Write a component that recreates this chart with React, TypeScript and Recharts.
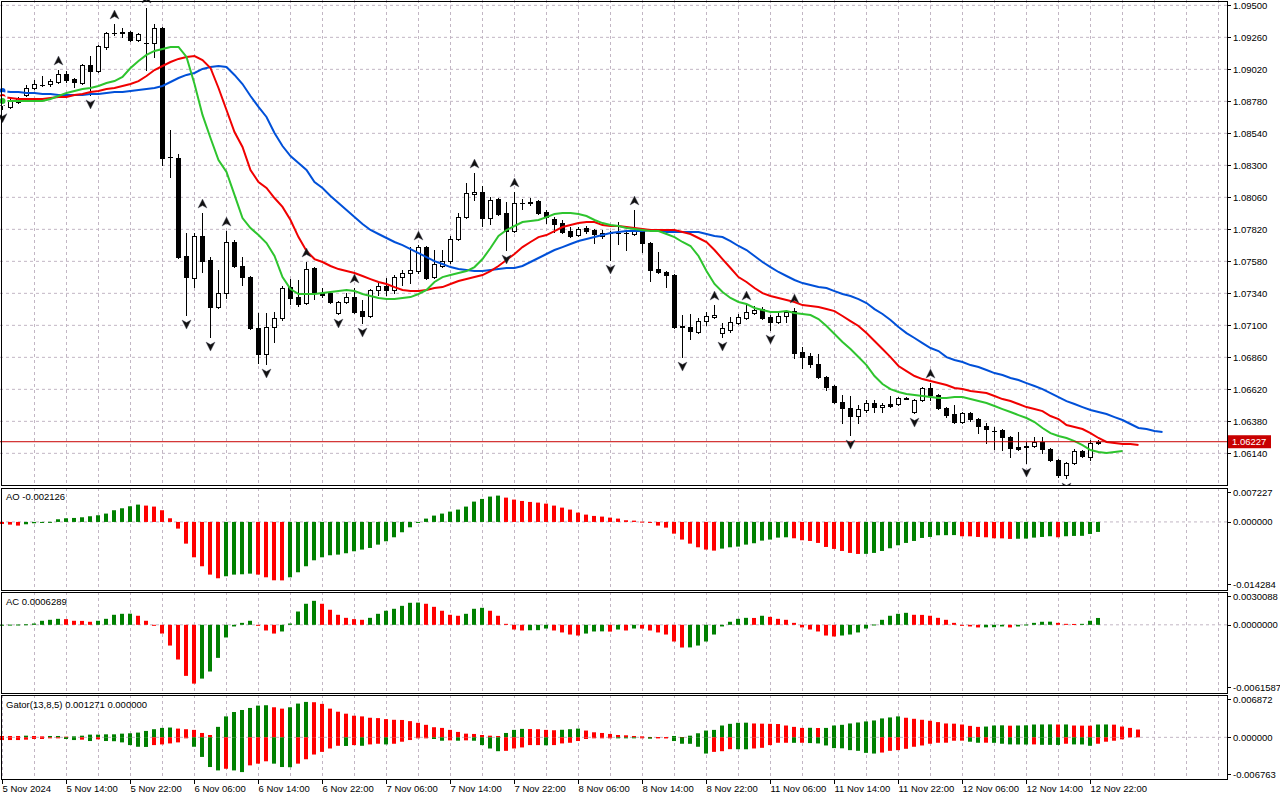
import React from "react"
import { ComposedChart, Bar, Line, Scatter, XAxis, YAxis, CartesianGrid, ReferenceLine } from "recharts"

// EURUSD H1, 5 Nov 06:00 .. 12 Nov 23:00
const open = [
  1.08756, 1.08738, 1.08775, 1.08828, 1.0888, 1.08902, 1.0891, 1.08925, 1.08985, 1.08947,
  1.08917, 1.09052, 1.09007, 1.09187, 1.09292, 1.09296, 1.093, 1.0924, 1.09217, 1.09217,
  1.0933, 1.08362, 1.08355, 1.0762, 1.07455, 1.0777, 1.0759, 1.07237, 1.07342, 1.07725,
  1.07545, 1.07462, 1.0708, 1.06885, 1.07087, 1.07155, 1.07387, 1.07312, 1.07267, 1.0753,
  1.07342, 1.07342, 1.07192, 1.07275, 1.07312, 1.07207, 1.0717, 1.07365, 1.07395, 1.07365,
  1.07462, 1.07492, 1.07507, 1.07687, 1.07462, 1.07545, 1.07582, 1.07747, 1.07912, 1.08085,
  1.081, 1.07905, 1.08047, 1.07942, 1.07807, 1.08017, 1.08025, 1.08032, 1.0795, 1.07897,
  1.07867, 1.07807, 1.07777, 1.0783, 1.07815, 1.0777, 1.07792, 1.07789, 1.07792, 1.07785,
  1.07807, 1.07717, 1.07522, 1.075, 1.07477, 1.07095, 1.07087, 1.0705, 1.07132, 1.07162,
  1.07042, 1.07065, 1.07117, 1.07155, 1.07192, 1.07222, 1.07162, 1.07125, 1.0717, 1.07207,
  1.069, 1.0687, 1.0681, 1.06712, 1.06642, 1.06525, 1.0648, 1.0642, 1.06465, 1.06517,
  1.06487, 1.0651, 1.0651, 1.06551, 1.0645, 1.0654, 1.0663, 1.06577, 1.0648, 1.06435,
  1.06375, 1.06442, 1.06397, 1.06345, 1.06311, 1.06315, 1.06262, 1.06187, 1.06195, 1.06195,
  1.06225, 1.06172, 1.0609, 1.05977, 1.06067, 1.06157, 1.06112, 1.06217,
]
const high = [
  1.08767, 1.08798, 1.08812, 1.08902, 1.0894, 1.0897, 1.08947, 1.09015, 1.09007, 1.08955,
  1.0906, 1.0912, 1.09202, 1.093, 1.0936, 1.0933, 1.09307, 1.09292, 1.0948, 1.0936,
  1.09337, 1.08565, 1.08385, 1.07792, 1.07792, 1.07942, 1.07612, 1.07515, 1.07807, 1.0774,
  1.07612, 1.0747, 1.07192, 1.07192, 1.072, 1.07395, 1.07447, 1.0744, 1.07575, 1.07537,
  1.0738, 1.0735, 1.07282, 1.07342, 1.0738, 1.0729, 1.07372, 1.07425, 1.07455, 1.07477,
  1.07515, 1.07687, 1.07702, 1.07695, 1.07665, 1.07665, 1.0777, 1.07942, 1.08167, 1.08242,
  1.08145, 1.08062, 1.08055, 1.08025, 1.081, 1.08047, 1.08055, 1.0804, 1.07965, 1.07912,
  1.0789, 1.07837, 1.07837, 1.07845, 1.07822, 1.07815, 1.07807, 1.07875, 1.07815, 1.07965,
  1.07815, 1.07725, 1.0765, 1.07507, 1.07485, 1.07177, 1.07185, 1.07155, 1.072, 1.07252,
  1.07117, 1.07162, 1.07185, 1.07252, 1.07245, 1.07237, 1.07177, 1.072, 1.07215, 1.0723,
  1.06937, 1.06892, 1.06885, 1.0672, 1.0665, 1.06577, 1.0657, 1.06502, 1.0654, 1.0654,
  1.06517, 1.0657, 1.06562, 1.06562, 1.06547, 1.06637, 1.06667, 1.06585, 1.06487, 1.06502,
  1.0645, 1.0645, 1.06405, 1.06367, 1.06337, 1.06322, 1.0627, 1.063, 1.06225, 1.06262,
  1.06262, 1.0618, 1.06097, 1.06075, 1.06172, 1.06165, 1.0624, 1.0624,
]
const low = [
  1.08725, 1.0873, 1.08767, 1.0882, 1.08872, 1.08895, 1.08895, 1.08917, 1.08925, 1.08887,
  1.0891, 1.08828, 1.09, 1.09172, 1.09277, 1.09262, 1.09232, 1.09232, 1.09015, 1.09112,
  1.08302, 1.08212, 1.07605, 1.07177, 1.07387, 1.075, 1.07012, 1.0723, 1.07305, 1.07537,
  1.07402, 1.07072, 1.06817, 1.0681, 1.06975, 1.0714, 1.0726, 1.07245, 1.0726, 1.07297,
  1.07312, 1.07267, 1.07185, 1.07267, 1.07192, 1.07117, 1.07162, 1.07327, 1.07327, 1.07342,
  1.07402, 1.07417, 1.07492, 1.07447, 1.07455, 1.07537, 1.07567, 1.0774, 1.07905, 1.0804,
  1.07845, 1.0786, 1.07927, 1.07665, 1.078, 1.07972, 1.08002, 1.07935, 1.07867, 1.078,
  1.07792, 1.07762, 1.0777, 1.07792, 1.07717, 1.07755, 1.0759, 1.0771, 1.07665, 1.07777,
  1.0765, 1.07432, 1.07492, 1.07387, 1.0708, 1.06862, 1.06997, 1.07042, 1.07102, 1.07155,
  1.07012, 1.0705, 1.0711, 1.07147, 1.07185, 1.07147, 1.07065, 1.07117, 1.07125, 1.06855,
  1.0678, 1.06787, 1.06705, 1.06612, 1.06517, 1.06367, 1.06277, 1.06367, 1.0645, 1.0645,
  1.0645, 1.06487, 1.06502, 1.06547, 1.06442, 1.06532, 1.0654, 1.06472, 1.06412, 1.06367,
  1.06367, 1.06382, 1.06292, 1.06217, 1.06172, 1.06165, 1.06112, 1.06165, 1.06067, 1.06187,
  1.06142, 1.06082, 1.05962, 1.05955, 1.0606, 1.06112, 1.0609, 1.0621,
]
const close = [
  1.08749, 1.0879, 1.08805, 1.0888, 1.0891, 1.08906, 1.08932, 1.08985, 1.0894, 1.08925,
  1.09052, 1.09007, 1.09195, 1.09292, 1.09289, 1.093, 1.0924, 1.09285, 1.09214, 1.0933,
  1.08355, 1.08359, 1.07612, 1.07462, 1.0777, 1.07582, 1.07237, 1.07342, 1.07725, 1.07545,
  1.07462, 1.0708, 1.06885, 1.07087, 1.07155, 1.0738, 1.07305, 1.0726, 1.07522, 1.0735,
  1.07327, 1.07275, 1.07275, 1.07312, 1.072, 1.0717, 1.07365, 1.07395, 1.07365, 1.07462,
  1.07492, 1.07515, 1.07687, 1.07455, 1.0756, 1.07582, 1.07747, 1.07912, 1.08092, 1.081,
  1.07905, 1.0804, 1.07935, 1.07807, 1.08017, 1.08014, 1.08021, 1.07942, 1.07912, 1.0786,
  1.078, 1.0777, 1.07822, 1.07807, 1.07785, 1.07792, 1.07789, 1.07792, 1.07789, 1.07815,
  1.07717, 1.07515, 1.075, 1.07477, 1.07087, 1.07087, 1.07057, 1.07132, 1.0717, 1.07174,
  1.0708, 1.07125, 1.07162, 1.072, 1.07215, 1.07155, 1.07125, 1.0717, 1.072, 1.06892,
  1.06862, 1.0681, 1.06712, 1.06635, 1.06525, 1.0648, 1.0642, 1.06472, 1.06517, 1.06487,
  1.06502, 1.06495, 1.06555, 1.06555, 1.0654, 1.0663, 1.06577, 1.0648, 1.06427, 1.06375,
  1.06442, 1.06397, 1.06345, 1.06322, 1.06307, 1.06262, 1.0618, 1.06172, 1.06187, 1.06225,
  1.06172, 1.0609, 1.05977, 1.06067, 1.06157, 1.0612, 1.06217, 1.06227,
]

// Alligator (13,8 / 8,5 / 5,3), values as drawn (shifted forward)
const jaw = [
  1.08858, 1.0885, 1.0885, 1.08843, 1.08843, 1.08835, 1.08835, 1.08828, 1.08828, 1.08828,
  1.08828, 1.08835, 1.08835, 1.08843, 1.0885, 1.0885, 1.08858, 1.08865, 1.08873, 1.0888,
  1.08895, 1.08925, 1.08955, 1.08978, 1.08993, 1.09023, 1.09038, 1.09045, 1.09038, 1.08978,
  1.0891, 1.0882, 1.08738, 1.08663, 1.08543, 1.08445, 1.0837, 1.08318, 1.08265, 1.08175,
  1.0813, 1.0807, 1.08017, 1.07965, 1.07912, 1.0786, 1.07815, 1.07785, 1.07755, 1.07725,
  1.07702, 1.07672, 1.07642, 1.07612, 1.07582, 1.0756, 1.07537, 1.07522, 1.07515, 1.07507,
  1.07507, 1.07515, 1.07522, 1.0753, 1.0753, 1.07545, 1.07575, 1.07605, 1.07635, 1.07665,
  1.07687, 1.0771, 1.07732, 1.07747, 1.07762, 1.07777, 1.07792, 1.078, 1.07807, 1.07807,
  1.07807, 1.07815, 1.07815, 1.078, 1.078, 1.078, 1.078, 1.078, 1.07785, 1.0777,
  1.07762, 1.07732, 1.07695, 1.07665, 1.0762, 1.07575, 1.07537, 1.075, 1.0747, 1.0744,
  1.07417, 1.07402, 1.07387, 1.0738, 1.07357, 1.07335, 1.0732, 1.07297, 1.07267, 1.07222,
  1.07185, 1.0714, 1.07087, 1.07042, 1.07005, 1.06967, 1.0693, 1.06907, 1.06862, 1.0684,
  1.06825, 1.06802, 1.06787, 1.06765, 1.06742, 1.06727, 1.06705, 1.0669, 1.06667, 1.06645,
  1.06622, 1.06592, 1.06562, 1.06532, 1.0651, 1.06487, 1.06465, 1.0645, 1.06435, 1.06412,
  1.0639, 1.0636, 1.0633, 1.06322, 1.06307, 1.063,
]
const teeth = [
  1.08813, 1.08805, 1.08798, 1.08798, 1.08798, 1.08798, 1.08805, 1.08813, 1.08813, 1.08828,
  1.08835, 1.0885, 1.08858, 1.08873, 1.0888, 1.08895, 1.0891, 1.08932, 1.0897, 1.09015,
  1.09045, 1.09075, 1.09098, 1.09113, 1.0912, 1.0909, 1.0903, 1.0888, 1.08715, 1.0855,
  1.08438, 1.08265, 1.08175, 1.0813, 1.08055, 1.07988, 1.0789, 1.07762, 1.07658, 1.07597,
  1.07575, 1.07545, 1.07522, 1.07507, 1.07492, 1.0747, 1.07447, 1.07425, 1.0741, 1.07387,
  1.07365, 1.07357, 1.07357, 1.07365, 1.0738, 1.07387, 1.0741, 1.07432, 1.07447, 1.07462,
  1.07477, 1.07507, 1.07545, 1.0759, 1.07635, 1.07687, 1.07725, 1.07762, 1.07777, 1.07807,
  1.07837, 1.07852, 1.07867, 1.07875, 1.07875, 1.07852, 1.07845, 1.07845, 1.07837, 1.0783,
  1.07822, 1.07815, 1.07815, 1.07815, 1.07815, 1.078, 1.07785, 1.07755, 1.07725, 1.07665,
  1.07597, 1.0753, 1.07462, 1.07425, 1.0738, 1.07342, 1.0732, 1.07305, 1.0729, 1.07275,
  1.07252, 1.07245, 1.07237, 1.07222, 1.07207, 1.0717, 1.07132, 1.07095, 1.07042, 1.06982,
  1.06922, 1.06862, 1.06795, 1.06757, 1.0672, 1.06697, 1.06682, 1.06667, 1.06652, 1.0663,
  1.06622, 1.06607, 1.066, 1.06592, 1.0657, 1.06547, 1.06532, 1.0651, 1.06487, 1.06472,
  1.06457, 1.0642, 1.06397, 1.06352, 1.06337, 1.06322, 1.06292, 1.06255, 1.06225, 1.06217,
  1.0621, 1.0621, 1.06202,
]
const lips = [
  1.08783, 1.08783, 1.08783, 1.08783, 1.08783, 1.08783, 1.08798, 1.0882, 1.08843, 1.08858,
  1.08873, 1.0888, 1.08895, 1.08917, 1.08932, 1.08963, 1.0903, 1.09083, 1.09128, 1.09158,
  1.09173, 1.09188, 1.09188, 1.09113, 1.0891, 1.08678, 1.08505, 1.0834, 1.0825, 1.08078,
  1.07905, 1.0783, 1.07777, 1.07717, 1.0762, 1.07462, 1.07372, 1.07335, 1.07335, 1.07335,
  1.07342, 1.0735, 1.07357, 1.07365, 1.07357, 1.07335, 1.0732, 1.07305, 1.07297, 1.07297,
  1.07305, 1.07312, 1.07335, 1.07365, 1.07425, 1.07462, 1.07477, 1.07492, 1.07507, 1.07537,
  1.07597, 1.0768, 1.0777, 1.07815, 1.07845, 1.07875, 1.07882, 1.0789, 1.07912, 1.07935,
  1.07942, 1.07942, 1.07935, 1.0792, 1.0789, 1.07867, 1.07852, 1.07845, 1.0783, 1.07822,
  1.07815, 1.07807, 1.07807, 1.07785, 1.07762, 1.07725, 1.07695, 1.0762, 1.07507, 1.0741,
  1.0735, 1.07305, 1.07275, 1.0726, 1.0723, 1.07215, 1.072, 1.072, 1.07207, 1.07192,
  1.07185, 1.07177, 1.07147, 1.07095, 1.07035, 1.06975, 1.06922, 1.06862, 1.06802, 1.0672,
  1.0666, 1.06622, 1.066, 1.06585, 1.06577, 1.0657, 1.06562, 1.06555, 1.06555, 1.06562,
  1.06562, 1.06547, 1.06532, 1.06517, 1.06495, 1.06472, 1.0645, 1.06427, 1.06405, 1.06375,
  1.0633, 1.06292, 1.0627, 1.06255, 1.06232, 1.06202, 1.06165, 1.0615, 1.06142, 1.0615,
  1.06157,
]

const fractalUpBars = [7, 14, 18, 25, 28, 38, 44, 52, 59, 64, 79, 89, 93, 99, 116]
const fractalDownBars = [0, 11, 23, 26, 33, 42, 45, 63, 76, 85, 90, 96, 106, 114, 128, 133]

const ao = [
  -0.00043, -0.00057, -0.00078, -0.0005, -0.00028, -0.00007, 0.00002, 0.00057, 0.00078, 0.00085,
  0.00099, 0.00121, 0.00142, 0.00178, 0.00249, 0.00291, 0.00334, 0.00369, 0.00348, 0.00327,
  0.00249, 0.00078, -0.00142, -0.00462, -0.00753, -0.00944, -0.01122, -0.012, -0.01157, -0.01122,
  -0.01115, -0.01101, -0.01122, -0.01179, -0.01243, -0.01245, -0.01179, -0.01072, -0.00944, -0.00817,
  -0.00753, -0.0071, -0.00696, -0.00667, -0.00625, -0.00589, -0.00554, -0.00483, -0.00412, -0.00327,
  -0.0022, -0.00114, -0.0001, 0.00071, 0.00135, 0.00178, 0.0022, 0.00263, 0.00327, 0.00433,
  0.0049, 0.0054, 0.00561, 0.00518, 0.00476, 0.00447, 0.00426, 0.00412, 0.0039, 0.00348,
  0.00305, 0.00263, 0.00199, 0.00156, 0.00128, 0.00114, 0.00092, 0.00071, 0.00036, 0.00028,
  0.00007, -0.0001, -0.00078, -0.00121, -0.00249, -0.00376, -0.00462, -0.0054, -0.00589, -0.00611,
  -0.00568, -0.0054, -0.00525, -0.00483, -0.00454, -0.00398, -0.00376, -0.00334, -0.00327, -0.00348,
  -0.0039, -0.00405, -0.00447, -0.00533, -0.00575, -0.00618, -0.0066, -0.00682, -0.0068, -0.0066,
  -0.00618, -0.00561, -0.00497, -0.00447, -0.00405, -0.00341, -0.0032, -0.00284, -0.00282, -0.0028,
  -0.00305, -0.00306, -0.0032, -0.00327, -0.00348, -0.0035, -0.00362, -0.00358, -0.00355, -0.00334,
  -0.0032, -0.00305, -0.00327, -0.00305, -0.00298, -0.00296, -0.00256, -0.002126,
]
const ac = [
  0.00001, 0.00002, 0.00003, 0.00005, 0.00012, 0.00037, 0.00046, 0.00055, 0.00052, 0.00037,
  0.00036, 0.00028, 0.00037, 0.00055, 0.00092, 0.00101, 0.00102, 0.00083, 0.00037, -0.00002,
  -0.0008, -0.0019, -0.00318, -0.00468, -0.00539, -0.00493, -0.00428, -0.00303, -0.00116, -0.00015,
  0.00018, 0.00037, -0.00006, -0.00052, -0.0008, -0.00061, 0.00012, 0.00122, 0.00193, 0.0022,
  0.00193, 0.00138, 0.00092, 0.00064, 0.00052, 0.00046, 0.00064, 0.00101, 0.00129, 0.00147,
  0.00174, 0.00202, 0.00204, 0.00193, 0.00165, 0.00129, 0.00092, 0.00083, 0.00101, 0.00147,
  0.00156, 0.00129, 0.00083, 0.00009, -0.00043, -0.00052, -0.0005, -0.00049, -0.00034, -0.00052,
  -0.0007, -0.00089, -0.00098, -0.0008, -0.00061, -0.0006, -0.00062, -0.00043, -0.00052, -0.00034,
  -0.00035, -0.00052, -0.0007, -0.00089, -0.00153, -0.00208, -0.00207, -0.0019, -0.00153, -0.00089,
  -0.00015, 0.00028, 0.00055, 0.00064, 0.00063, 0.00083, 0.00073, 0.00055, 0.00046, 0.00018,
  -0.00024, -0.00043, -0.00061, -0.00098, -0.00107, -0.00098, -0.00089, -0.0007, -0.00034, 0.00003,
  0.00046, 0.00083, 0.00101, 0.0011, 0.00092, 0.00091, 0.00083, 0.00064, 0.00046, 0.00018,
  -0.00006, -0.00015, -0.00024, -0.00023, -0.00022, -0.00015, -0.00024, -0.00015, 0.00003, 0.00018,
  0.00028, 0.00029, 0.00018, 0.00009, 0.00008, 0.00009, 0.00037, 0.0006289,
]
const gatorUp = [
  0.00022, 0.00022, 0.00022, 0.00027, 0.00022, 0.00016, 0.00022, 0.00022, 0.00011, 0.00016,
  0.00027, 0.00044, 0.00044, 0.00049, 0.00049, 0.0006, 0.00066, 0.00077, 0.00104, 0.00132,
  0.00153, 0.00159, 0.00142, 0.00132, 0.00121, 0.00071, 0.00038, 0.0017, 0.0034, 0.00411,
  0.00444, 0.00477, 0.00515, 0.00521, 0.00488, 0.00466, 0.00488, 0.00548, 0.00575, 0.0057,
  0.00543, 0.00466, 0.00416, 0.00384, 0.00351, 0.0034, 0.00318, 0.00312, 0.00296, 0.00285,
  0.00282, 0.00263, 0.00236, 0.00203, 0.00164, 0.00153, 0.00121, 0.00088, 0.0006, 0.00055,
  0.00038, 0.00027, 0.00022, 0.00071, 0.00121, 0.00137, 0.00134, 0.00132, 0.00121, 0.00115,
  0.00123, 0.00132, 0.00142, 0.0011, 0.00082, 0.00071, 0.00055, 0.00038, 0.00033, 0.00022,
  0.00016, 0.00005, 0.00004, 0.00003, 0.00022, 0.00005, 0.00027, 0.00066, 0.0011, 0.00121,
  0.00192, 0.00219, 0.00236, 0.00238, 0.00225, 0.00222, 0.00219, 0.00216, 0.00192, 0.0017,
  0.00153, 0.00155, 0.00151, 0.00153, 0.00192, 0.00203, 0.00225, 0.00241, 0.00258, 0.00274,
  0.00307, 0.00323, 0.0034, 0.00318, 0.00301, 0.00285, 0.00269, 0.00247, 0.00225, 0.00222,
  0.00208, 0.00186, 0.0017, 0.00175, 0.00192, 0.00195, 0.00189, 0.00192, 0.00195, 0.00208,
  0.00209, 0.0021, 0.00208, 0.00209, 0.00192, 0.0019, 0.00189, 0.00208, 0.00209, 0.00206,
  0.00175, 0.00153, 0.001271,
]
const gatorDown = [
  -0.00044, -0.00044, -0.00044, -0.00038, -0.00027, -0.00027, -0.00016, -0.00011, -0.00027, -0.00044,
  -0.00038, -0.0006, -0.00033, -0.0006, -0.00063, -0.00082, -0.00126, -0.00153, -0.00156, -0.00126,
  -0.00115, -0.00099, -0.00082, -0.00016, -0.00153, -0.00318, -0.00482, -0.00537, -0.0051, -0.00537,
  -0.00564, -0.00455, -0.00427, -0.00389, -0.00427, -0.00482, -0.00485, -0.00427, -0.00356, -0.00279,
  -0.00236, -0.00181, -0.00137, -0.0014, -0.00126, -0.00137, -0.00115, -0.00104, -0.00115, -0.00104,
  -0.00071, -0.00044, -0.00002, -0.00001, -0.00027, -0.00055, -0.00049, -0.00055, -0.00049, -0.00055,
  -0.00126, -0.00181, -0.00225, -0.00219, -0.00181, -0.00164, -0.00126, -0.00126, -0.00129, -0.00126,
  -0.00099, -0.00088, -0.0006, -0.00027, -0.00016, -0.00003, -0.00001, -0.00005, -0.00007, -0.00016,
  -0.00002, -0.00022, -0.00001, -0.00001, -0.0006, -0.00104, -0.00105, -0.00153, -0.00263, -0.00236,
  -0.00225, -0.00192, -0.00193, -0.00194, -0.00181, -0.0017, -0.00126, -0.00088, -0.00088, -0.00089,
  -0.00088, -0.00093, -0.00099, -0.00132, -0.00175, -0.00178, -0.00208, -0.00219, -0.00252, -0.00263,
  -0.00247, -0.00219, -0.00208, -0.00186, -0.00153, -0.00132, -0.00104, -0.00088, -0.00087, -0.00055,
  -0.00054, -0.00071, -0.00088, -0.00087, -0.00089, -0.00104, -0.00115, -0.00116, -0.00117, -0.00115,
  -0.00121, -0.00122, -0.00123, -0.00104, -0.00115, -0.00116, -0.00137, -0.00104, -0.00071, -0.00055,
  -0.00033,
]

const priceTicks = [
  1.0614, 1.0638, 1.0662, 1.0686, 1.071, 1.0734, 1.0758, 1.0782,
  1.0806, 1.083, 1.0854, 1.0878, 1.0902, 1.0926, 1.095,
]
const timeLabels = [
  "5 Nov 2024", "5 Nov 14:00", "5 Nov 22:00", "6 Nov 06:00", "6 Nov 14:00", "6 Nov 22:00",
  "7 Nov 06:00", "7 Nov 14:00", "7 Nov 22:00", "8 Nov 06:00", "8 Nov 14:00", "8 Nov 22:00",
  "11 Nov 06:00", "11 Nov 14:00", "11 Nov 22:00", "12 Nov 06:00", "12 Nov 14:00", "12 Nov 22:00",
]
const labelBars = timeLabels.map((_, k) => k * 8)
const gridBars = Array.from({ length: 39 }, (_, k) => k * 4)

const AO_DOMAIN: [number, number] = [-0.014284, 0.007227]
const AC_DOMAIN: [number, number] = [-0.0061587, 0.0030088]
const GATOR_DOMAIN: [number, number] = [-0.006763, 0.006872]
const PRICE_DOMAIN: [number, number] = [1.05895, 1.0954]
const X_DOMAIN: [number, number] = [-0.3125, 153.0625]

const GREEN = "#008000"
const RED = "#ff0000"
const GRID = "#c2b6c4"
const FONT = '"Liberation Sans", Arial, sans-serif'
const FS = 9.5

function trendColors(values: number[], first: string, upIsGreen = true) {
  const out: string[] = []
  values.forEach((v, k) => {
    if (k === 0) out.push(first)
    else if (v === values[k - 1]) out.push(out[k - 1])
    else out.push((v > values[k - 1]) === upIsGreen ? GREEN : RED)
  })
  return out
}

const aoColors = trendColors(ao, RED)
const acColors = trendColors(ac, GREEN)
const gUpColors = trendColors(gatorUp, RED)
const gDownColors = trendColors(gatorDown, RED, false)

const rows = jaw.map((_, i) => ({
  i,
  open: open[i],
  high: high[i],
  low: low[i],
  close: close[i],
  jaw: jaw[i],
  teeth: teeth[i],
  lips: lips[i],
  ao: ao[i],
  ac: ac[i],
  gUp: gatorUp[i],
  gDown: gatorDown[i],
  aoColor: aoColors[i],
  acColor: acColors[i],
  gUpColor: gUpColors[i],
  gDownColor: gDownColors[i],
}))

const upPoints = fractalUpBars.map((i) => ({ i, price: high[i] }))
const downPoints = fractalDownBars.map((i) => ({ i, price: low[i] }))

function Candle(props: any) {
  const { x, y, width, height, payload } = props
  if (payload == null || payload.high == null || y == null || isNaN(y)) return null
  const top = Math.min(y, y + height)
  const h = Math.abs(height)
  const span = payload.high - payload.low || 1e-9
  const py = (p: number) => top + ((payload.high - p) / span) * h
  const cx = Math.round(x + width / 2 - 0.5) + 0.5
  const yo = py(payload.open)
  const yc = py(payload.close)
  const bTop = Math.round(Math.min(yo, yc)) + 0.5
  const bBot = Math.round(Math.max(yo, yc)) + 0.5
  const bull = payload.close >= payload.open
  return (
    <g>
      <line x1={cx} x2={cx} y1={Math.round(top)} y2={Math.round(top + h) + 1} stroke="#000" strokeWidth={1} />
      {bBot - bTop < 1 ? (
        <line x1={cx - 2.5} x2={cx + 2.5} y1={bTop} y2={bTop} stroke="#000" strokeWidth={1} />
      ) : (
        <rect x={cx - 2} y={bTop} width={4} height={bBot - bTop} fill={bull ? "#fff" : "#000"} stroke="#000" strokeWidth={1} />
      )}
    </g>
  )
}

const histShape = (colorKey: string) => (props: any) => {
  const { x, y, width, height, payload } = props
  if (payload == null || payload[colorKey] == null || y == null || isNaN(y)) return null
  const top = Math.min(y, y + height)
  const h = Math.max(Math.abs(height), 1)
  const cx = Math.round(x + width / 2 - 0.5) + 0.5
  return <rect x={cx - 2.5} y={top} width={4} height={h} fill={payload[colorKey]} />
}

function arrowPath(cx: number, cy: number, dir: number) {
  // dir = -1 points up, 1 points down
  return `M${cx},${cy + dir * 5} L${cx + 4.5},${cy - dir * 4} L${cx},${cy - dir * 1.5} L${cx - 4.5},${cy - dir * 4} Z`
}
const UpArrow = (props: any) => <path d={arrowPath(props.cx, props.cy - 9, -1)} fill="#111" stroke="#445" strokeWidth={0.4} />
const DownArrow = (props: any) => <path d={arrowPath(props.cx, props.cy + 9, 1)} fill="#111" stroke="#445" strokeWidth={0.4} />

const makeValueTick = (digits: number, domain?: [number, number]) => (props: any) => {
  const { x, y, payload } = props
  let dy = 0
  if (domain && payload.value === domain[1]) dy = 4
  if (domain && payload.value === domain[0]) dy = -5
  const ty = y + dy
  return (
    <g>
      <line x1={x - 6} x2={x - 2} y1={Math.round(ty) + 0.5} y2={Math.round(ty) + 0.5} stroke="#000" />
      <text x={x} y={ty + 3.5} fontSize={FS} fontFamily={FONT} fill="#000">
        {payload.value.toFixed(digits)}
      </text>
    </g>
  )
}

const TimeTick = (props: any) => {
  const { x, y, payload } = props
  const k = labelBars.indexOf(payload.value)
  if (k < 0) return null
  return (
    <text x={x} y={y + 7.5} fontSize={FS} fontFamily={FONT} fill="#000">
      {timeLabels[k]}
    </text>
  )
}

const PriceTag = (props: any) => {
  const vb = props.viewBox || {}
  const x = (vb.x || 0) + (vb.width || 0)
  const y = vb.y || 0
  return (
    <g>
      <rect x={x + 1} y={y - 6.5} width={43} height={13} fill="#c80000" />
      <text x={x + 5} y={y + 3.5} fontSize={FS} fontFamily={FONT} fill="#fff">
        {close[close.length - 1].toFixed(5)}
      </text>
    </g>
  )
}

const frame = (top: number, height: number): React.CSSProperties => ({
  position: "absolute",
  left: 1,
  top,
  width: 1227,
  height,
  border: "1px solid #000",
  boxSizing: "border-box",
  pointerEvents: "none",
})

const header = (top: number): React.CSSProperties => ({
  position: "absolute",
  left: 6,
  top,
  fontSize: FS,
  lineHeight: "11px",
  fontFamily: FONT,
  color: "#000",
  whiteSpace: "pre",
})

export default function App() {
  const yAxisProps = {
    orientation: "right" as const,
    width: 53,
    allowDataOverflow: true,
    axisLine: false,
    tickLine: false,
    tickSize: 4,
    tickMargin: 2,
    interval: 0 as const,
  }
  const hiddenX = (
    <XAxis dataKey="i" type="number" domain={X_DOMAIN} allowDataOverflow hide ticks={gridBars} />
  )
  return (
    <div style={{ position: "fixed", left: 0, top: 0, width: 1280, height: 800, background: "#fff", overflow: "hidden" }}>
      <div style={{ position: "absolute", left: 0, top: 0 }}>
        <ComposedChart width={1280} height={486} data={rows} margin={{ top: 0, right: 0, bottom: 0, left: 0 }}>
          <CartesianGrid verticalValues={gridBars} horizontalValues={priceTicks} stroke={GRID} strokeDasharray="3 3" />
          {hiddenX}
          <YAxis {...yAxisProps} domain={PRICE_DOMAIN} ticks={priceTicks} tick={makeValueTick(5)} />
          <Bar
            dataKey={(d: any) => (d.high != null ? [d.low, d.high] : null)}
            barSize={4}
            shape={Candle}
            isAnimationActive={false}
          />
          <Line dataKey="jaw" stroke="#0050d8" strokeWidth={2} dot={false} isAnimationActive={false} />
          <Line dataKey="teeth" stroke="#f00000" strokeWidth={2} dot={false} isAnimationActive={false} />
          <Line dataKey="lips" stroke="#2ec42e" strokeWidth={2} dot={false} isAnimationActive={false} />
          <ReferenceLine y={close[close.length - 1]} stroke="#c80000" strokeWidth={1} label={PriceTag} />
          <Scatter data={upPoints} dataKey="price" shape={UpArrow} isAnimationActive={false} />
          <Scatter data={downPoints} dataKey="price" shape={DownArrow} isAnimationActive={false} />
        </ComposedChart>
      </div>

      <div style={{ position: "absolute", left: 0, top: 488 }}>
        <ComposedChart width={1280} height={101} data={rows} margin={{ top: 0, right: 0, bottom: 0, left: 0 }}>
          <CartesianGrid verticalValues={gridBars} horizontalValues={[0]} stroke={GRID} strokeDasharray="3 3" />
          {hiddenX}
          <YAxis {...yAxisProps} domain={AO_DOMAIN} ticks={[AO_DOMAIN[0], 0, AO_DOMAIN[1]]} tick={makeValueTick(6, AO_DOMAIN)} />
          <Bar dataKey="ao" barSize={4} shape={histShape("aoColor")} isAnimationActive={false} />
        </ComposedChart>
      </div>

      <div style={{ position: "absolute", left: 0, top: 592 }}>
        <ComposedChart width={1280} height={100} data={rows} margin={{ top: 0, right: 0, bottom: 0, left: 0 }}>
          <CartesianGrid verticalValues={gridBars} horizontalValues={[0]} stroke={GRID} strokeDasharray="3 3" />
          {hiddenX}
          <YAxis {...yAxisProps} domain={AC_DOMAIN} ticks={[AC_DOMAIN[0], 0, AC_DOMAIN[1]]} tick={makeValueTick(7, AC_DOMAIN)} />
          <Bar dataKey="ac" barSize={4} shape={histShape("acColor")} isAnimationActive={false} />
        </ComposedChart>
      </div>

      <div style={{ position: "absolute", left: 0, top: 695 }}>
        <ComposedChart
          width={1280}
          height={105}
          data={rows}
          stackOffset="sign"
          margin={{ top: 0, right: 0, bottom: 0, left: 0 }}
        >
          <CartesianGrid verticalValues={gridBars} horizontalValues={[0]} stroke={GRID} strokeDasharray="3 3" />
          <XAxis
            dataKey="i"
            type="number"
            domain={X_DOMAIN}
            allowDataOverflow
            ticks={labelBars}
            interval={0}
            height={21}
            axisLine={false}
            tickLine={{ stroke: "#000" }}
            tickSize={5}
            tickMargin={0}
            tick={TimeTick}
          />
          <YAxis {...yAxisProps} domain={GATOR_DOMAIN} ticks={[GATOR_DOMAIN[0], 0, GATOR_DOMAIN[1]]} tick={makeValueTick(6, GATOR_DOMAIN)} />
          <Bar dataKey="gUp" stackId="g" barSize={4} shape={histShape("gUpColor")} isAnimationActive={false} />
          <Bar dataKey="gDown" stackId="g" barSize={4} shape={histShape("gDownColor")} isAnimationActive={false} />
        </ComposedChart>
      </div>

      <div style={frame(1, 485)} />
      <div style={frame(488, 103)} />
      <div style={frame(592, 102)} />
      <div style={frame(695, 85)} />

      <div style={header(491)}>AO -0.002126</div>
      <div style={header(596)}>AC 0.0006289</div>
      <div style={header(699)}>Gator(13,8,5) 0.001271 0.000000</div>
    </div>
  )
}
